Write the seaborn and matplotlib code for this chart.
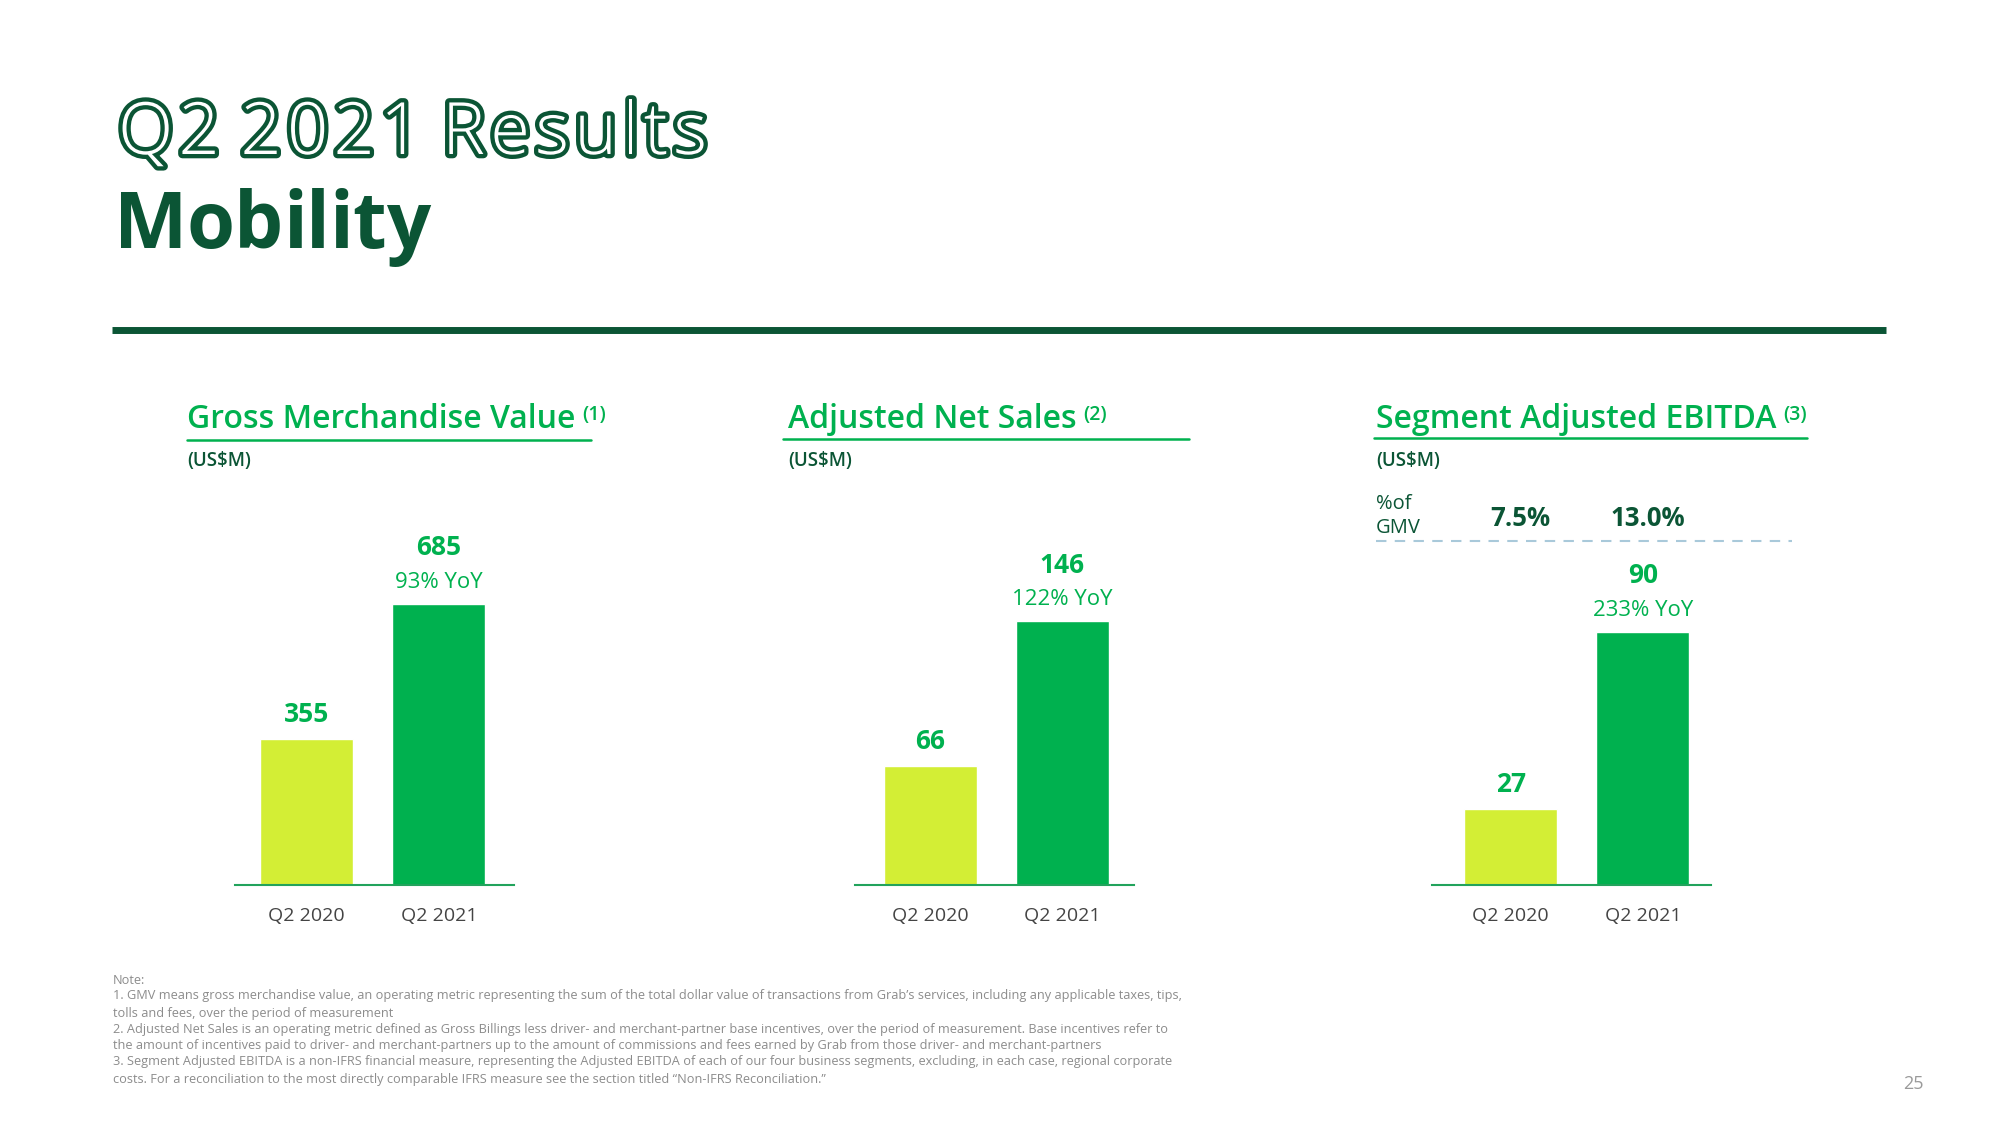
import matplotlib
matplotlib.use('Agg')
from matplotlib import pyplot as plt
from matplotlib.lines import Line2D
import matplotlib.patheffects as pe
import seaborn as sns
import pandas as pd

sns.set_style('white')
plt.rcParams['font.family'] = ['Open Sans', 'DejaVu Sans']

# data
periods = ['Q2 2020', 'Q2 2021']
gmv = [355, 685]
net_sales = [66, 146]
ebitda = [27, 90]
yoy_labels = ['93% YoY', '122% YoY', '233% YoY']
chart_titles = ['Gross Merchandise Value', 'Adjusted Net Sales', 'Segment Adjusted EBITDA']
footnote_marks = ['(1)', '(2)', '(3)']
pct_of_gmv = ['7.5%', '13.0%']
notes = [
    "Note:",
    "1. GMV means gross merchandise value, an operating metric representing the sum of the total dollar value of transactions from Grab\u2019s services, including any applicable taxes, tips,",
    "tolls and fees, over the period of measurement",
    "2. Adjusted Net Sales is an operating metric defined as Gross Billings less driver- and merchant-partner base incentives, over the period of measurement. Base incentives refer to",
    "the amount of incentives paid to driver- and merchant-partners up to the amount of commissions and fees earned by Grab from those driver- and merchant-partners",
    "3. Segment Adjusted EBITDA is a non-IFRS financial measure, representing the Adjusted EBITDA of each of our four business segments, excluding, in each case, regional corporate",
    "costs. For a reconciliation to the most directly comparable IFRS measure see the section titled \u201cNon-IFRS Reconciliation.\u201d",
]

DARK = '#0b5535'
GREEN = '#00b14f'
LIME = '#d3ee35'
GREY = '#8c8c8c'

W, H = 2000, 1122
fig = plt.figure(figsize=(20, 11.22), dpi=100)
renderer = fig.canvas.get_renderer()


def fx(x):
    return x / W


def fy(y):
    return 1 - y / H


def spaced_text(s, x0, x1, y, space_w, **kw):
    # draw letters one by one, spread evenly between x0 and x1 (pixels)
    items = []
    for ch in s:
        if ch == ' ':
            items.append((None, space_w))
        else:
            t = fig.text(0, fy(y), ch, va='baseline', **kw)
            items.append((t, t.get_window_extent(renderer).width))
    total = sum(w for _, w in items)
    gap = (x1 - x0 - total) / (len(items) - 1)
    x = x0
    for t, w in items:
        if t is not None:
            t.set_x(fx(x))
        x += w + gap


# heading (double-line lettering: dark outline, white core)
spaced_text('Q2 2021 Results', 118, 707, 154, 10, fontsize=52, color='white',
            fontweight='light',
            path_effects=[pe.Stroke(linewidth=6.2, foreground=DARK), pe.Normal()])
spaced_text('Mobility', 114, 430, 248, 0, fontsize=56, color=DARK, fontweight='bold')
fig.add_artist(Line2D([fx(112), fx(1886)], [fy(330), fy(330)], color=DARK,
                      lw=5, solid_capstyle='butt'))

# three bar charts
series = [gmv, net_sales, ebitda]
ymax = [791, 180, 115.6]
xmin = [-0.544, -0.572, -0.597]
ax_left = [235, 855, 1432]
title_x = [187, 788, 1376]
uline = [(187, 591, 440), (783, 1189, 439), (1374, 1807, 438)]

for i, vals in enumerate(series):
    df = pd.DataFrame({'period': periods, 'value': vals})
    ax = fig.add_axes([fx(ax_left[i]), fy(885), 279 / W, 325 / H])
    sns.barplot(data=df, x='period', y='value', hue='period',
                palette=[LIME, GREEN], saturation=1, width=0.705,
                legend=False, ax=ax)
    ax.set_xlim(xmin[i], xmin[i] + 2.114)
    ax.set_ylim(0, ymax[i])
    sns.despine(ax=ax, left=True)
    ax.spines['bottom'].set_color('#22a35c')
    ax.spines['bottom'].set_linewidth(1.5)
    ax.set_yticks([])
    ax.set_xlabel('')
    ax.set_ylabel('')
    ax.tick_params(axis='x', length=0, pad=16, labelsize=14, labelcolor='#444444')

    # value labels
    ax.annotate(str(vals[0]), (0, vals[0]), xytext=(0, 17.5), textcoords='offset points',
                ha='center', va='center', fontsize=19, fontweight='bold', color=GREEN)
    ax.annotate(str(vals[1]), (1, vals[1]), xytext=(0, 40.5), textcoords='offset points',
                ha='center', va='center', fontsize=19, fontweight='bold', color=GREEN)
    ax.annotate(yoy_labels[i], (1, vals[1]), xytext=(0, 15.5), textcoords='offset points',
                ha='center', va='center', fontsize=16, color=GREEN)

    # chart title + footnote mark
    t = fig.text(fx(title_x[i]), fy(428), chart_titles[i], fontsize=23, color=GREEN,
                 fontweight='semibold', va='baseline')
    bb = t.get_window_extent(renderer)
    fig.text(bb.x1 / W + 7 / W, fy(420), footnote_marks[i], fontsize=14,
             color=GREEN, fontweight='semibold', va='baseline')
    x0, x1, yl = uline[i]
    fig.add_artist(Line2D([fx(x0), fx(x1)], [fy(yl), fy(yl)], color=GREEN, lw=1.8))
    fig.text(fx(title_x[i]), fy(461), '(US$M)', fontsize=13.5, color=DARK,
             fontweight='semibold', va='center')

# % of GMV row (EBITDA chart)
fig.text(fx(1376), fy(504), '%of', fontsize=14.5, color=DARK, va='center')
fig.text(fx(1376), fy(528), 'GMV', fontsize=14.5, color=DARK, va='center')
for x, s in zip([1520, 1648], pct_of_gmv):
    fig.text(fx(x), fy(518), s, fontsize=18.5, color=DARK, fontweight='bold',
             ha='center', va='center')
fig.add_artist(Line2D([fx(1376), fx(1792)], [fy(541), fy(541)], color='#a9c9da',
                      lw=1.5, dashes=(5, 4)))

# notes
note_y = [980, 996, 1013, 1029, 1046, 1062, 1079]
for y, line in zip(note_y, notes):
    fig.text(fx(113), fy(y), line, fontsize=9.15, color=GREY, va='center')

fig.text(fx(1913), fy(1084), '25', fontsize=13, color='#9a9a9a', ha='center', va='center')

plt.savefig('out.png', dpi=100)
